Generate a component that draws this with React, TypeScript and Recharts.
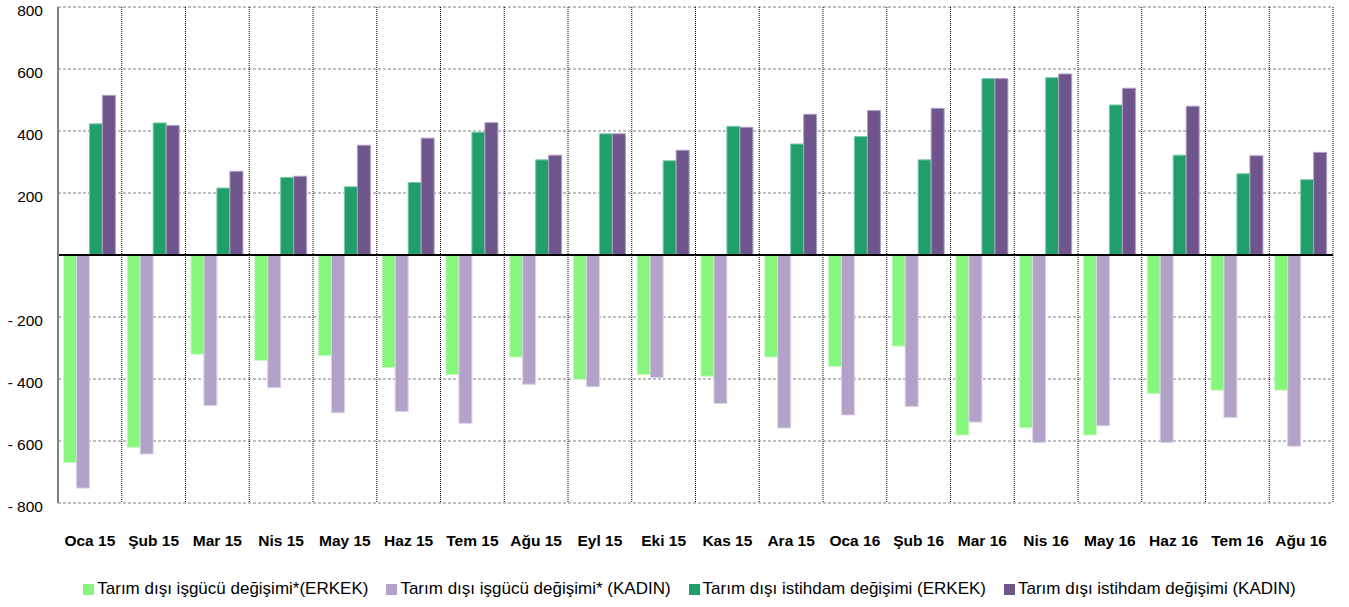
import { BarChart, Bar, XAxis, YAxis, CartesianGrid, Legend, ReferenceLine } from "recharts"

// Months (Turkish short names)
const months = [
  "Oca 15", "Şub 15", "Mar 15", "Nis 15", "May 15", "Haz 15", "Tem 15", "Ağu 15", "Eyl 15", "Eki 15",
  "Kas 15", "Ara 15", "Oca 16", "Şub 16", "Mar 16", "Nis 16", "May 16", "Haz 16", "Tem 16", "Ağu 16",
]

// Series values (thousand persons)
const isgucuErkek = [-670, -620, -320, -340, -325, -363, -386, -329, -401, -386, -391, -329, -360, -294, -581, -557, -581, -447, -436, -436]
const isgucuKadin = [-752, -642, -486, -428, -509, -505, -543, -417, -425, -395, -479, -558, -516, -489, -539, -605, -551, -605, -524, -617]
const istihdamErkek = [423, 426, 216, 250, 220, 234, 396, 307, 391, 304, 415, 358, 382, 307, 569, 572, 484, 322, 262, 243]
const istihdamKadin = [515, 418, 270, 254, 354, 377, 427, 322, 391, 338, 412, 454, 466, 473, 569, 584, 538, 480, 320, 331]

const yTicks = [-800, -600, -400, -200, 0, 200, 400, 600, 800]

const series = [
  { key: "isgucuErkek", name: "Tarım dışı işgücü değişimi*(ERKEK)", fill: "#86f67d", stroke: "#c8fbc4" },
  { key: "isgucuKadin", name: "Tarım dışı işgücü değişimi* (KADIN)", fill: "#b2a2c8", stroke: "#dcd2e8" },
  { key: "istihdamErkek", name: "Tarım dışı istihdam değişimi (ERKEK)", fill: "#219f6b", stroke: "#7cc9a6" },
  { key: "istihdamKadin", name: "Tarım dışı istihdam değişimi (KADIN)", fill: "#6e558c", stroke: "#b0a0c4" },
]

const data = months.map((month, i) => ({
  month,
  isgucuErkek: isgucuErkek[i],
  isgucuKadin: isgucuKadin[i],
  istihdamErkek: istihdamErkek[i],
  istihdamKadin: istihdamKadin[i],
}))

const font = "Arial, 'Liberation Sans', sans-serif"

// legend kept in series order (recharts sorts by name otherwise)
function LegendBox() {
  return (
    <div style={{ display: "flex", justifyContent: "center", alignItems: "center", height: 24, paddingLeft: 46, gap: 18 }}>
      {series.map((s) => (
        <div key={s.key} style={{ display: "flex", alignItems: "center", whiteSpace: "nowrap" }}>
          <span style={{ display: "inline-block", width: 11, height: 11, background: s.fill, marginRight: 3 }} />
          <span style={{ fontSize: 17, color: "#000", fontFamily: font }}>{s.name}</span>
        </div>
      ))}
    </div>
  )
}

export default function App() {
  // grid lines between months, not through them
  const monthBorders = ({ offset }) =>
    Array.from({ length: months.length + 1 }, (_, i) => offset.left + (i * offset.width) / months.length)

  return (
    <div style={{ position: "absolute", left: 0, top: 0, fontFamily: font }}>
      <BarChart
        width={1349}
        height={607}
        data={data}
        margin={{ top: 7, right: 16, left: 0, bottom: 6 }}
        barCategoryGap="8.5%"
        barGap={0}
      >
        <CartesianGrid vertical={false} stroke="#808080" strokeDasharray="3 2" />
        <CartesianGrid horizontal={false} stroke="#000" strokeDasharray="1 1" verticalCoordinatesGenerator={monthBorders} />
        <XAxis
          dataKey="month"
          axisLine={false}
          tickLine={false}
          tickSize={0}
          tickMargin={32}
          height={74}
          interval={0}
          tick={{ fontSize: 15.5, fontWeight: "bold", fill: "#000", fontFamily: font }}
        />
        <YAxis
          width={58}
          domain={[-800, 800]}
          ticks={yTicks}
          interval={0}
          axisLine={{ stroke: "#808080", strokeWidth: 2 }}
          tickLine={false}
          tickSize={0}
          tickMargin={15}
          tickFormatter={(v) => (v === 0 ? "" : v < 0 ? `- ${Math.abs(v)}` : `${v}`)}
          tick={{ fontSize: 15.5, fill: "#000", fontFamily: font, dy: 3 }}
        />
        <ReferenceLine y={0} stroke="#000" strokeWidth={2} />
        <Legend verticalAlign="bottom" height={24} content={() => <LegendBox />} />
        {series.map((s) => (
          <Bar key={s.key} dataKey={s.key} name={s.name} fill={s.fill} stroke={s.stroke} strokeWidth={1} isAnimationActive={false} />
        ))}
      </BarChart>
    </div>
  )
}
